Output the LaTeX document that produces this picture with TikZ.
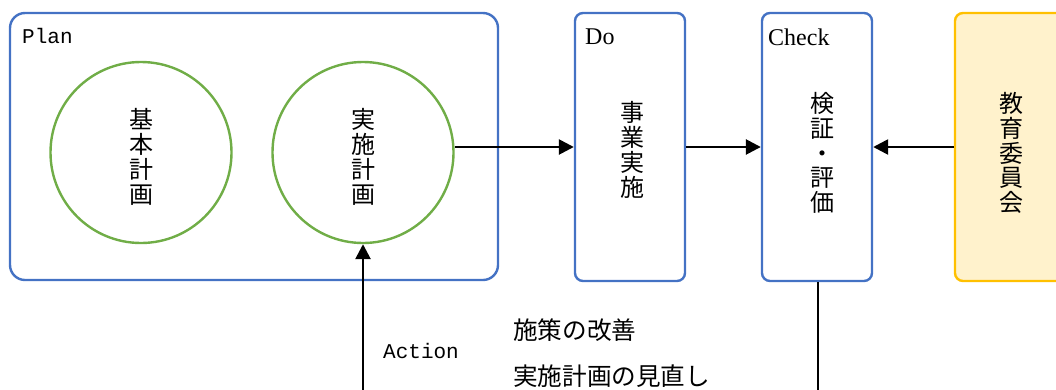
\documentclass[tikz,border=0pt]{standalone}
\usepackage{fontspec}
\newfontfamily\jpfont{Noto Sans CJK JP}
\newfontfamily\monofnt{Liberation Mono}
\newfontfamily\serfnt{Liberation Serif}
\usetikzlibrary{arrows.meta}
\definecolor{boxblue}{HTML}{4472C4}
\definecolor{circgreen}{HTML}{70AD47}
\definecolor{edyellow}{HTML}{FFF2CC}
\definecolor{edorange}{HTML}{FFC000}
\tikzset{
  stagebox/.style={draw=boxblue, line width=2.4pt, rounded corners=8pt, inner sep=0pt},
  plancirc/.style={draw=circgreen, line width=2.4pt, circle, minimum size=181pt, inner sep=0pt},
  vtext/.style={align=center, font=\jpfont\fontsize{24}{24.8}\selectfont, inner sep=0pt},
  htext/.style={anchor=west, font=\jpfont\fontsize{24.6}{26}\selectfont, inner sep=0pt},
  monolabel/.style={anchor=west, font=\monofnt\fontsize{21}{23}\selectfont, inner sep=0pt},
  serlabel/.style={anchor=west, font=\serfnt\fontsize{24}{26}\selectfont, inner sep=0pt},
  flow/.style={draw=black, line width=2.6pt, -{Triangle[length=15pt,width=15pt]}},
  plainline/.style={draw=black, line width=2.6pt},
}
\begin{document}
\begin{tikzpicture}[x=1pt,y=-1pt]
\useasboundingbox (0,0) rectangle (1056,389);
\clip (0,0) rectangle (1056,389);
% Plan
\node[stagebox, rounded corners=15pt, minimum width=488pt, minimum height=267pt] (plan) at (254,146.5) {};
\node[monolabel] (planlbl) at (22,36) {Plan};
\node[plancirc] (c1) at (141,152.5) {};
\node[plancirc] (c2) at (363,152.5) {};
\node[vtext] (c1t) at (141,157) {基\\本\\計\\画};
\node[vtext] (c2t) at (363,157) {実\\施\\計\\画};
% Do
\node[stagebox, minimum width=110pt, minimum height=268pt] (do) at (630,147) {};
\node[serlabel] (dolbl) at (585,37) {Do};
\node[vtext] (dot) at (632,150) {事\\業\\実\\施};
% Check
\node[stagebox, minimum width=110pt, minimum height=268pt] (check) at (817,147) {};
\node[serlabel] (checklbl) at (768,37) {Check};
\node[vtext] (checkt) at (822,153) {検\\証\\・\\評\\価};
% Board of education
\node[draw=edorange, fill=edyellow, line width=2.4pt, rounded corners=8pt, minimum width=112pt, minimum height=268pt, inner sep=0pt] (kyo) at (1011,147) {};
\node[vtext] (kyot) at (1011,153) {教\\育\\委\\員\\会};
% Connectors
\draw[flow] (c2.east |- 0,147) -- (do.west |- 0,147);
\draw[flow] (do.east) -- (check.west);
\draw[flow] (kyo.west) -- (check.east);
\coordinate (actstart) at (363,395);
\coordinate (checkend) at (818,395);
\draw[flow] (actstart) -- (c2.south);
\draw[plainline] (check.south -| checkend) -- (checkend);
% Action labels
\node[monolabel] (act) at (383,351) {Action};
\node[htext] (a1) at (513,330) {施策の改善};
\node[htext] (a2) at (513,376) {実施計画の見直し};
\end{tikzpicture}
\end{document}
